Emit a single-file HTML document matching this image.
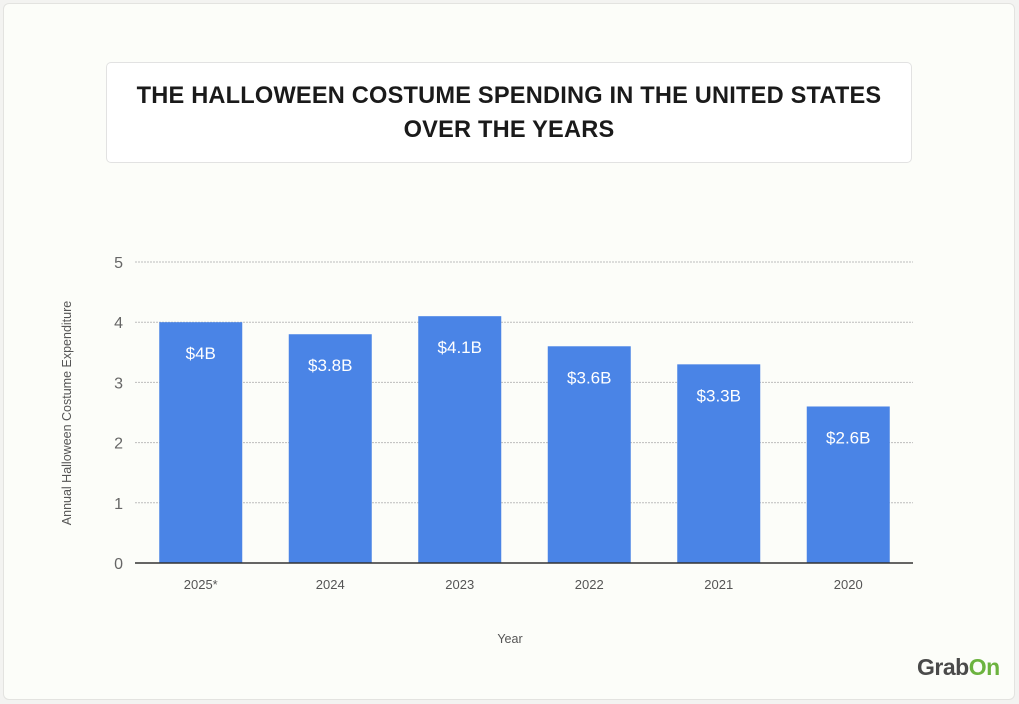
<!DOCTYPE html>
<html><head><meta charset="utf-8"><style>
html,body{margin:0;padding:0;width:1019px;height:704px;background:#f3f3f1;overflow:hidden}
#card{position:absolute;left:3px;top:3px;width:1010px;height:695px;background:#fcfdf9;border:1px solid #e3e3e0;border-radius:6px}
#title{position:absolute;left:106px;top:62px;width:806px;height:101px;background:#fff;border:1px solid #e2e2e2;border-radius:5px;box-sizing:border-box;display:flex;align-items:center;justify-content:center;text-align:center;font-family:"Liberation Sans",sans-serif;font-weight:bold;font-size:23.6px;line-height:34px;color:#1a1a1a;letter-spacing:0.2px}
svg{position:absolute;left:0;top:0}
#logo{position:absolute;left:917px;top:654px;font-family:"Liberation Sans",sans-serif;font-weight:bold;font-size:23px;color:#4a4a4a;letter-spacing:-0.5px}
#logo span{color:#6cb33f}
</style></head><body>
<div id="card"></div>
<div id="title">THE HALLOWEEN COSTUME SPENDING IN THE UNITED STATES<br>OVER THE YEARS</div>
<svg id="chart" width="1019" height="704"></svg>
<div id="logo">Grab<span>On</span></div>
<script>
const categories = ["2025*","2024","2023","2022","2021","2020"];
const values = [4, 3.8, 4.1, 3.6, 3.3, 2.6];
const valueLabels = ["$4B","$3.8B","$4.1B","$3.6B","$3.3B","$2.6B"];
const yTicks = [0,1,2,3,4,5];
const NS="http://www.w3.org/2000/svg";
const svg=document.getElementById('chart');
const x0=136,x1=913,y0=563,yMax=5,yTop=262;
const band=(x1-x0)/categories.length, barW=83;
const y=v=>y0-(v/yMax)*(y0-yTop);
const xc=i=>x0+band*(i+0.5);
function mk(tag,attrs,text){const e=document.createElementNS(NS,tag);for(const k in attrs)e.setAttribute(k,attrs[k]);if(text!==undefined)e.textContent=text;svg.appendChild(e);return e;}
yTicks.forEach(t=>{
  if(t>0){const g=mk('line',{x1:x0-1,x2:x1,y1:y(t),y2:y(t),stroke:'#bdbdbd','stroke-width':1,'stroke-dasharray':'2,1'});
  
  }
  const l=mk('text',{x:123,y:y(t)+6,'text-anchor':'end','font-family':'Liberation Sans, sans-serif','font-size':16,fill:'#666'},String(t));
  
  
});
categories.forEach((c,i)=>{
  const r=mk('rect',{x:xc(i)-barW/2,y:y(values[i]),width:barW,height:y0-y(values[i]),fill:'#4a84e6'});
  
  
  const v=mk('text',{x:xc(i),y:y(values[i])+37,'text-anchor':'middle','font-family':'Liberation Sans, sans-serif','font-size':17,fill:'#fff'},valueLabels[i]);
  
  
  const xl=mk('text',{x:xc(i),y:589,'text-anchor':'middle','font-family':'Liberation Sans, sans-serif','font-size':13,fill:'#555'},c);
  
  
});
const ax=mk('line',{x1:x0-1,x2:x1,y1:y0,y2:y0,stroke:'#333','stroke-width':1.5});


const xt=mk('text',{x:510,y:643,'text-anchor':'middle','font-family':'Liberation Sans, sans-serif','font-size':12.5,fill:'#555'},'Year');


const yt=mk('text',{x:0,y:0,'text-anchor':'middle','font-family':'Liberation Sans, sans-serif','font-size':12.5,fill:'#555',transform:'translate(71,413) rotate(-90)'},'Annual Halloween Costume Expenditure');


</script>
</body></html>
